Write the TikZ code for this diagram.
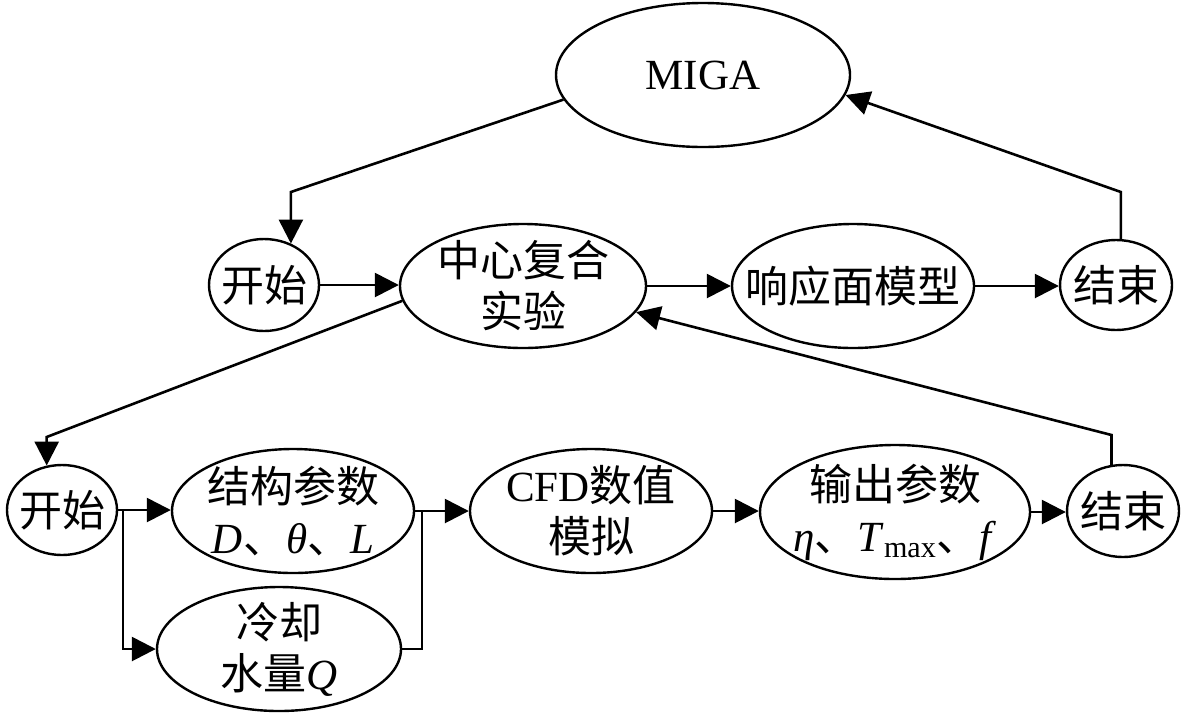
\documentclass[tikz,border=0pt]{standalone}
\usepackage{fontspec}
\setmainfont{Liberation Serif}
\newfontfamily\cjk{Noto Sans CJK SC}
\newcommand{\zh}[1]{{\cjk #1}}
\usetikzlibrary{shapes.geometric,arrows.meta,calc}
\begin{document}
\begin{tikzpicture}[x=0.5pt,y=-0.5pt,
  every path/.style={line width=1.3pt},
  oval/.style={ellipse,draw,line width=1.2pt,inner sep=0pt},
  txt/.style={align=center,inner sep=0pt,font=\fontsize{21.5}{25.5}\selectfont},
  arr/.style={-{Triangle[length=12pt,width=12pt]}}]
\useasboundingbox (0,0) rectangle (1181,713);
% top row
\node[oval,minimum width=147pt,minimum height=72pt,label={[txt]center:MIGA}] (miga) at (703,75) {};
\node[oval,minimum width=55pt,minimum height=46pt,label={[txt]center:\zh{开始}}] (s1) at (264,285) {};
\node[oval,minimum width=123pt,minimum height=62pt,label={[txt]center:\zh{中心复合}\\\zh{实验}}] (ccd) at (523,286) {};
\node[oval,minimum width=121pt,minimum height=62pt,label={[txt]center:\zh{响应面模型}}] (rsm) at (853,286) {};
\node[oval,minimum width=56pt,minimum height=45pt,label={[txt]center:\zh{结束}}] (e1) at (1116,285) {};
% bottom row
\node[oval,minimum width=55pt,minimum height=45pt,label={[txt]center:\zh{开始}}] (s2) at (62,510) {};
\node[oval,minimum width=121pt,minimum height=62pt,label={[txt]center:\zh{结构参数}\\\textit{D}\zh{、}\textit{θ}\zh{、}\textit{L}}] (st) at (293,511) {};
\node[oval,minimum width=122pt,minimum height=62pt,label={[txt]center:\zh{冷却}\\\zh{水量}\textit{Q}}] (cool) at (279,649) {};
\node[oval,minimum width=121pt,minimum height=62pt,label={[txt]center:CFD\zh{数值}\\\zh{模拟}}] (cfd) at (591,511) {};
\node[oval,minimum width=135pt,minimum height=67pt,label={[txt]center:\zh{输出参数}\\\textit{η}\zh{、}\textit{T}\textsubscript{max}\zh{、}\textit{f}}] (out) at (895,512) {};
\node[oval,minimum width=56pt,minimum height=46pt,label={[txt]center:\zh{结束}}] (e2) at (1123,511) {};
% connectors top
\draw[arr] (miga.190) -- (s1.57 |- 0,192) -- (s1.57);
\draw[arr] (e1.84) -- (e1.84 |- 0,192) -- (miga.-8);
\draw[arr] (s1.east) -- (s1.east -| ccd.west);
\draw[arr] (ccd.east) -- (ccd.east -| rsm.west);
\draw[arr] (rsm.east) -- (rsm.east -| e1.west);
% feedback / call lines
\draw[arr] (ccd.187) -- (s2.109 |- 0,437) -- (s2.109);
\draw[arr] (e2.104) -- (e2.104 |- 0,435) -- (ccd.-13);
% bottom flow
\draw[arr] (s2.east) -- (s2.east -| st.west);
\draw[arr] (s2.east -| 123,0) |- (cool.west);
\draw[arr] (st.east) -- (st.east -| cfd.west);
\draw (cool.east) -| (st.east -| 422,0);
\draw[arr] (cfd.east) -- (cfd.east -| out.west);
\draw[arr] (out.east) -- (out.east -| e2.west);
\end{tikzpicture}
\end{document}
